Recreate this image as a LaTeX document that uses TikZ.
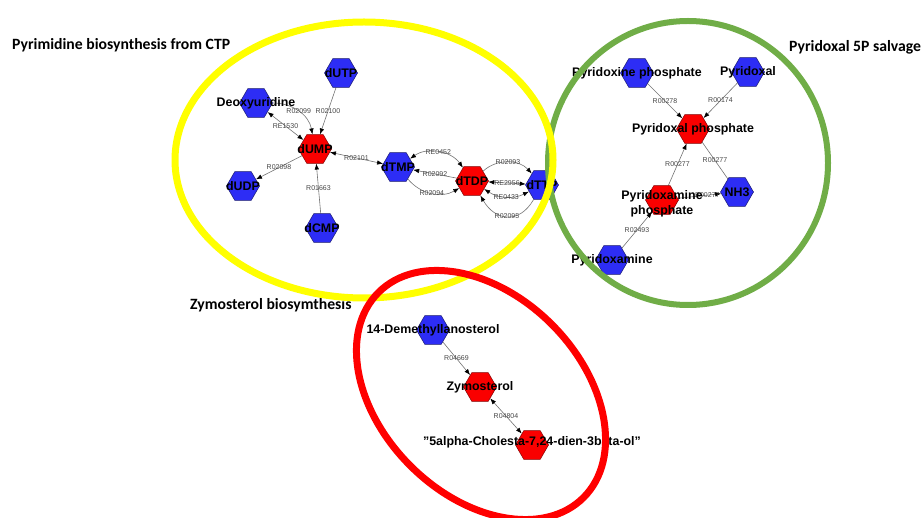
\documentclass[tikz,border=0pt]{standalone}
\usepackage{fontspec}
\setmainfont{Liberation Sans}
\newfontfamily\titlefont{Carlito}
\usetikzlibrary{shapes.geometric,arrows.meta,backgrounds}
\definecolor{nodeblue}{RGB}{45,45,245}
\definecolor{nodeblueline}{RGB}{25,25,110}
\definecolor{nodered}{RGB}{250,0,0}
\definecolor{noderedline}{RGB}{130,0,0}
\definecolor{edgegray}{RGB}{115,115,115}
\definecolor{labelgray}{RGB}{70,70,70}
\definecolor{ringyellow}{RGB}{255,255,0}
\definecolor{ringgreen}{RGB}{112,173,71}
\definecolor{ringred}{RGB}{255,0,0}
\begin{document}
\begin{tikzpicture}[x=1pt,y=1pt,
  hex/.style={regular polygon, regular polygon sides=6, minimum size=33pt, inner sep=0pt, line width=0.5pt},
  bluehex/.style={hex, fill=nodeblue, draw=nodeblueline},
  redhex/.style={hex, fill=nodered, draw=noderedline},
  lbl/.style={font=\fontsize{12.4}{15}\selectfont\bfseries, text=black, inner sep=0pt, align=center},
  elbl/.style={font=\fontsize{7}{8}\selectfont, text=labelgray, inner sep=0pt},
  edge/.style={draw=edgegray, line width=0.6pt},
  tip/.style={-{Latex[length=6pt,width=4.5pt,color=black]}},
  dtip/.style={{Latex[length=6pt,width=4.5pt,color=black]}-{Latex[length=6pt,width=4.5pt,color=black]}},
  grptitle/.style={font=\titlefont\fontsize{15.7}{17}\selectfont\bfseries, text=black, inner sep=0pt, anchor=west}
]
\useasboundingbox (0,0) rectangle (924,517);
% titles
\node[grptitle] (t1) at (12,517-45) {Pyrimidine biosynthesis from CTP};
\node[grptitle] (t2) at (789,517-47) {Pyridoxal 5P salvage};
\node[grptitle] (t3) at (190,517-305) {Zymosterol biosymthesis};
% pyrimidine nodes
\node[bluehex, label={[lbl]center:dUTP}] (dutp) at (341,517-73) {};
\node[bluehex, label={[lbl]center:Deoxyuridine}] (deox) at (256,517-103) {};
\node[redhex, label={[lbl]center:dUMP}] (dump) at (315,517-149) {};
\node[bluehex, label={[lbl]center:dUDP}] (dudp) at (243,517-186) {};
\node[bluehex, label={[lbl]center:dCMP}] (dcmp) at (322,517-228) {};
\node[bluehex, label={[lbl]center:dTMP}] (dtmp) at (398,517-167) {};
\node[redhex, label={[lbl]center:dTDP}] (dtdp) at (472,517-181) {};
\node[bluehex, label={[lbl]center:dTTP}] (dttp) at (542,517-185) {};
% pyridoxal nodes
\node[bluehex, label={[lbl]center:Pyridoxine phosphate}] (pnp) at (637,517-73) {};
\node[bluehex, label={[lbl]center:Pyridoxal}] (pl) at (748,517-72) {};
\node[redhex, label={[lbl]center:Pyridoxal phosphate}] (plp) at (693,517-129) {};
\node[redhex, label={[lbl,yshift=-4pt]center:Pyridoxamine\\phosphate}] (pmp) at (662,517-200) {};
\node[bluehex, label={[lbl]center:NH3}] (nh3) at (737,517-192) {};
\node[bluehex, label={[lbl]center:Pyridoxamine}] (pm) at (612,517-260) {};
% zymosterol nodes
\node[bluehex, label={[lbl]center:14-Demethyllanosterol}] (dml) at (433,517-330) {};
\node[redhex, label={[lbl]center:Zymosterol}] (zym) at (480,517-387) {};
\node[redhex, label={[lbl,yshift=3pt]center:\symbol{34}5alpha-Cholesta-7,24-dien-3beta-ol\symbol{34}}] (chol) at (532,517-445) {};
% edges
\begin{scope}[on background layer]
\draw[edge,tip] (dutp) -- node[elbl]{R02100} (dump);
\draw[edge,tip] (deox) to[out=0,in=100] node[elbl,pos=0.5]{R02099} (dump);
\draw[edge,dtip] (deox) -- node[elbl]{RE1530} (dump);
\draw[edge,tip] (dump) -- node[elbl]{R02098} (dudp);
\draw[edge,tip] (dcmp) -- node[elbl]{R01663} (dump);
\draw[edge,dtip] (dump) -- node[elbl]{R02101} (dtmp);
\draw[edge,dtip] (dtmp) to[bend left=45] node[elbl]{RE0452} (dtdp);
\draw[edge,tip] (dtdp) -- node[elbl]{R02092} (dtmp);
\draw[edge,tip] (dtmp) to[bend right=40] node[elbl]{R02094} (dtdp);
\draw[edge,tip] (dtdp) to[bend left=45] node[elbl]{R02093} (dttp);
\draw[edge,dtip] (dttp) -- node[elbl]{RE2956} (dtdp);
\draw[edge,dtip] (dtdp) to[bend right=30] node[elbl]{RE0433} (dttp);
\draw[edge,tip] (dttp) to[out=-120,in=-60,looseness=1.4] node[elbl]{R02095} (dtdp);
\draw[edge,tip] (pnp) -- node[elbl]{R00278} (plp);
\draw[edge,tip] (pl) -- node[elbl]{R00174} (plp);
\draw[edge,tip] (pmp) -- node[elbl]{R00277} (plp);
\draw[edge] (plp) -- node[elbl]{R00277} (nh3);
\draw[edge,tip] (pmp) -- node[elbl,pos=0.68]{R00277} (nh3);
\draw[edge,tip] (pm) -- node[elbl]{R02493} (pmp);
\draw[edge,tip] (dml) -- node[elbl]{R04669} (zym);
\draw[edge,dtip] (zym) -- node[elbl]{R04804} (chol);
\end{scope}
% group rings
\draw[ringgreen, line width=6pt] (688,517-163) ellipse [x radius=140pt, y radius=142pt];
\draw[ringyellow, line width=7pt] (364,517-160) ellipse [x radius=189pt, y radius=138pt];
\draw[ringred, line width=7pt, rotate around={-45:(481,517-395)}] (481,517-395) ellipse [x radius=145pt, y radius=100pt];
\end{tikzpicture}
\end{document}
